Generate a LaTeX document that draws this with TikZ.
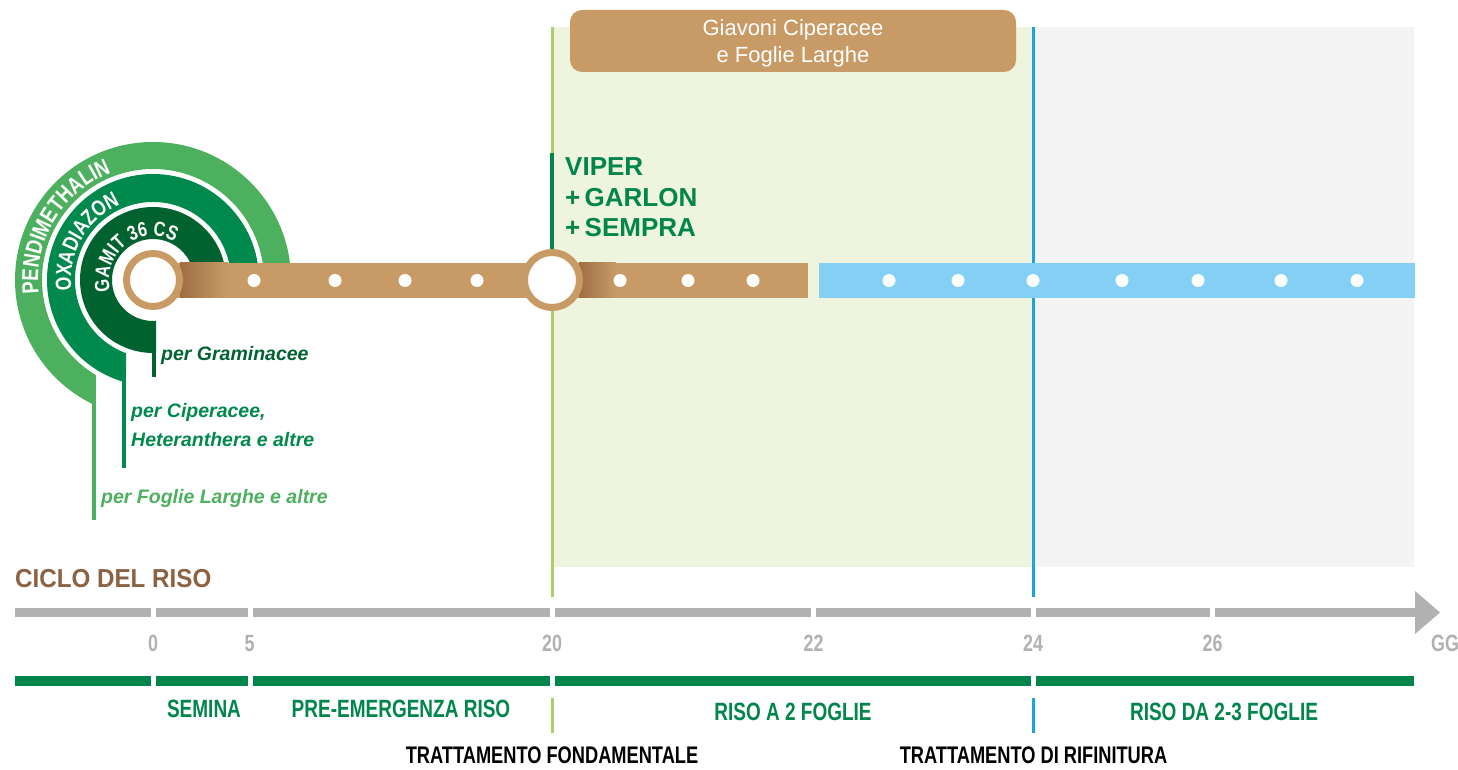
\documentclass[tikz,border=0pt]{standalone}
\usepackage{fontspec}
\setmainfont{Liberation Sans}
\newfontfamily\condfont{Liberation Sans}[FakeStretch=0.76]
\newfontfamily\arcfont{Liberation Sans}[FakeStretch=0.8]
\newfontfamily\ciclofont{Liberation Sans}[FakeStretch=0.93]
\usetikzlibrary{calc,decorations.text}
\definecolor{brownc}{HTML}{C89B66}
\definecolor{browndk}{HTML}{9E6E43}
\definecolor{bggreen}{HTML}{EEF4DE}
\definecolor{bggray}{HTML}{F4F4F4}
\definecolor{barblue}{HTML}{84D0F4}
\definecolor{linegreen}{HTML}{A9D06A}
\definecolor{lineblue}{HTML}{1BA5DF}
\definecolor{maingreen}{HTML}{00854A}
\definecolor{arclight}{HTML}{4DB05F}
\definecolor{arcmid}{HTML}{00894C}
\definecolor{arcdark}{HTML}{00632F}
\definecolor{axisgray}{HTML}{B1B1B1}
\definecolor{ciclobrown}{HTML}{8B6343}
\begin{document}
\begin{tikzpicture}[x=1pt,y=1pt,
  dotnode/.style={circle,fill=white,inner sep=0,minimum size=13},
  ringnode/.style={circle,draw=brownc,line width=7,fill=white,inner sep=0},
  numlbl/.style={text=axisgray,font=\condfont\bfseries\fontsize{23.5}{24}\selectfont,inner sep=0},
  stagelbl/.style={text=maingreen,font=\condfont\bfseries\fontsize{25}{25}\selectfont,inner sep=0},
  treatlbl/.style={text=black,font=\condfont\bfseries\fontsize{24}{24}\selectfont,inner sep=0},
  weedlbl/.style={font=\bfseries\itshape\fontsize{19.5}{28}\selectfont,inner sep=0,anchor=base west},
  prodlbl/.style={text=maingreen,font=\bfseries\fontsize{26}{26}\selectfont,inner sep=0,anchor=base west},
  arctext/.style 2 args={decorate,decoration={text along path,text align=center,text color=white,text={|\arcfont\bfseries\fontsize{#1}{#1}\selectfont|#2}}},
  boxtxt/.style={text=white,font=\fontsize{22}{26}\selectfont,inner sep=0,anchor=base}]
\useasboundingbox (0,0) rectangle (1458,769);
\coordinate (C) at (153,489);
% backgrounds
\fill[bggreen] (553,202) rectangle (1033,742);
\fill[bggray] (1033,202) rectangle (1414,742);
\draw[linegreen,line width=3] (552,742) -- (552,172);
\draw[lineblue,line width=3] (1033,742) -- (1033,172);
% top box
\node[fill=brownc,rounded corners=12,minimum width=446,minimum height=62,inner sep=0] (topbox) at (793,728) {};
\node[boxtxt] (box1) at (793,733) {Giavoni Ciperacee};
\node[boxtxt] (box2) at (793,706.5) {e Foglie Larghe};
% arcs
\fill[arclight] ($(C)+(0:138)$) arc[start angle=0,end angle=245.6,radius=138] -- ($(C)+(239.1:111)$) arc[start angle=239.1,end angle=0,radius=111] -- cycle;
\fill[arcmid] ($(C)+(0:106)$) arc[start angle=0,end angle=255.24,radius=106] -- ($(C)+(249.75:78)$) arc[start angle=249.75,end angle=0,radius=78] -- cycle;
\fill[arcdark] ($(C)+(0:73)$) arc[start angle=0,end angle=272.4,radius=73] -- ($(C)+(274.2:41)$) arc[start angle=274.2,end angle=0,radius=41] -- cycle;
\draw[arclight,line width=4] (94,379) -- (94,249);
\draw[arcmid,line width=4] (124,399) -- (124,301);
\draw[arcdark,line width=4] (154,429) -- (154,392);
\path[arctext={23}{PENDIMETHALIN}] ($(C)+(215:115)$) arc[start angle=215,end angle=83,radius=115];
\path[arctext={22}{OXADIAZON}] ($(C)+(220:82)$) arc[start angle=220,end angle=81,radius=82];
\path[arctext={20.5}{GAMIT 36 CS}] ($(C)+(210:44)$) arc[start angle=210,end angle=45,radius=44];
% bars
\fill[brownc] (153,471) rectangle (808,506);
\shade[left color=browndk,right color=brownc] (180,471) rectangle (228,506);
\shade[left color=browndk,right color=brownc] (579,471) rectangle (616,506);
\fill[barblue] (819,471) rectangle (1415,506);
\node[ringnode,minimum size=53] (c0) at (C) {};
\node[ringnode,minimum size=55] (c20) at (552,489) {};
\foreach \i/\x in {1/254,2/335,3/405,4/477,5/620,6/688,7/753,8/889,9/958,10/1033,11/1122,12/1198,13/1281,14/1357}
  \node[dotnode] (d\i) at (\x,488.5) {};
% product
\draw[maingreen,line width=4.5] (552,616) -- (c20.north);
\node[prodlbl] (p1) at (565,593) {VIPER};
\node[prodlbl] (p2) at (565,562.5) {+\,GARLON};
\node[prodlbl] (p3) at (565,532) {+\,SEMPRA};
% weed labels
\node[weedlbl,text=arcdark] (w1) at (161,408.5) {per Graminacee};
\node[weedlbl,text=arcmid] (w2) at (131,351) {per Ciperacee,};
\node[weedlbl,text=arcmid] (w3) at (131,322.5) {Heteranthera e altre};
\node[weedlbl,text=arclight] (w4) at (101,266) {per Foglie Larghe e altre};
% ciclo
\node[inner sep=0,anchor=base west,text=ciclobrown,font=\ciclofont\bfseries\fontsize{26}{26}\selectfont] (ciclo) at (15,182) {CICLO DEL RISO};
% gray axis
\foreach \a/\b in {15/151,156/247.5,252.5/549.5,555/811,816/1030.5,1035.5/1210,1215/1416}
  \fill[axisgray] (\a,152) rectangle (\b,161);
\fill[axisgray] (1415,178) -- (1440,156.5) -- (1415,135) -- cycle;
\node[numlbl] (n0) at (153,125.5) {0};
\node[numlbl] (n5) at (249.5,125.5) {5};
\node[numlbl] (n20) at (552,125.5) {20};
\node[numlbl] (n22) at (813.5,125.5) {22};
\node[numlbl] (n24) at (1033,125.5) {24};
\node[numlbl] (n26) at (1212.5,125.5) {26};
\node[numlbl] (ngg) at (1445,125.5) {GG};
% green stage bar
\foreach \a/\b in {15/151,156/247.5,252.5/549.5,555/1030.5,1035.5/1414}
  \fill[maingreen] (\a,83) rectangle (\b,93);
\node[stagelbl] (s1) at (204,60) {SEMINA};
\node[stagelbl] (s2) at (401,60) {PRE-EMERGENZA RISO};
\node[stagelbl] (s3) at (793,57) {RISO A 2 FOGLIE};
\node[stagelbl] (s4) at (1224,57) {RISO DA 2-3 FOGLIE};
\draw[linegreen,line width=3] (552,71) -- (552,36);
\draw[lineblue,line width=3] (1033,71) -- (1033,36);
\node[treatlbl] (t1) at (552,13.5) {TRATTAMENTO FONDAMENTALE};
\node[treatlbl] (t2) at (1033.5,13.5) {TRATTAMENTO DI RIFINITURA};
\end{tikzpicture}
\end{document}
